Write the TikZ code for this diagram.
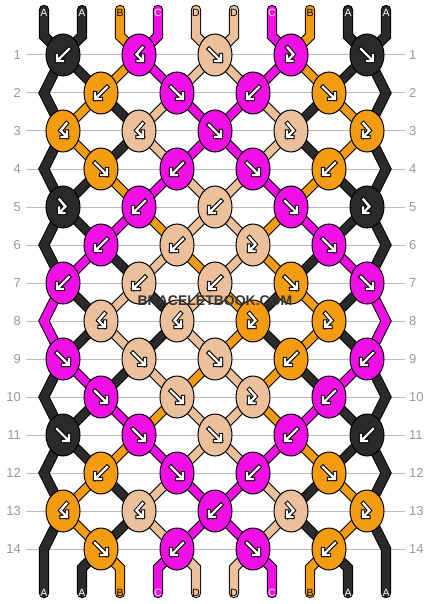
\documentclass[tikz,border=0pt]{standalone}
\usepackage{fontspec}
\setmainfont{Liberation Sans}
\usetikzlibrary{shapes.geometric}
\definecolor{sA}{HTML}{2A2A2A}
\definecolor{sB}{HTML}{F39C12}
\definecolor{sC}{HTML}{F20FE6}
\definecolor{sD}{HTML}{EBC09A}
\definecolor{gridc}{HTML}{BBBBBB}
\definecolor{numc}{HTML}{999999}
\definecolor{wmc}{HTML}{353535}
\pgfdeclarelayer{grid}
\pgfdeclarelayer{outl}
\pgfdeclarelayer{sfill}
\pgfsetlayers{grid,outl,sfill,main}
\newcommand\strand[2]{%
  \begin{pgfonlayer}{outl}\draw[strout] #2;\end{pgfonlayer}%
  \begin{pgfonlayer}{sfill}\draw[strin,draw=s#1] #2;\end{pgfonlayer}}
\newcommand\dstrand[2]{%
  \begin{pgfonlayer}{outl}\draw[dout] #2;\end{pgfonlayer}%
  \begin{pgfonlayer}{sfill}\draw[din,draw=s#1] #2;\end{pgfonlayer}}
\newcommand\knicon[2]{%
  \draw[icon,shift={(#1.center)},draw=black,line width=4.4] #2;
  \draw[icon,shift={(#1.center)},draw=white,line width=2.4] #2;}
\newcommand\knf[1]{\knicon{#1}{(-6,-6) -- (5.5,5.5) (0,6) -- (6,6) -- (6,0)}}
\newcommand\knb[1]{\knicon{#1}{(6,-6) -- (-5.5,5.5) (0,6) -- (-6,6) -- (-6,0)}}
\newcommand\knbf[1]{\knicon{#1}{(3.5,-7.5) -- (-2.5,-0.5) -- (3.5,5.5) (-1.5,6) -- (4,6) -- (4,0.5)}}
\newcommand\knfb[1]{\knicon{#1}{(-3.5,-7.5) -- (2.5,-0.5) -- (-3.5,5.5) (1.5,6) -- (-4,6) -- (-4,0.5)}}
\begin{document}
\begin{tikzpicture}[x=1pt,y=-1pt,
  strout/.style={line width=10.4,draw=black,line join=miter,line cap=round},
  strin/.style={line width=8.4,line join=miter,line cap=round},
  dout/.style={line width=9.6,draw=black},
  din/.style={line width=7.6},
  knot/.style={ellipse,draw=black,line width=1,minimum width=34,minimum height=42,inner sep=0},
  icon/.style={line join=miter,line cap=rect},
  lab/.style={font=\fontsize{10.5}{12}\selectfont,inner sep=0},
  num/.style={font=\fontsize{13}{14}\selectfont,text=numc,inner sep=0}]
\useasboundingbox (0,0) rectangle (430,604);
\begin{pgfonlayer}{grid}
  \fill[white] (0,0) rectangle (430,604);
  \foreach \rw in {1,...,14}{
    \draw[gridc,line width=1] (26,{17+38*\rw}) -- (405,{17+38*\rw});
  }
\end{pgfonlayer}
% row numbers
\foreach \rw in {1,...,14}{
  \node[num,anchor=east] (ln-\rw) at (21,{17+38*\rw}) {\rw};
  \node[num,anchor=west] (rn-\rw) at (409,{17+38*\rw}) {\rw};
}
% coordinates
\foreach \rw in {2,4,...,14}{
  \coordinate (L-\rw) at (44,{17+38*\rw});
  \coordinate (R-\rw) at (386,{17+38*\rw});
}
\foreach \pp in {0,...,9}{
  \coordinate (T-\pp) at ({44+38*\pp},10);
  \coordinate (TB-\pp) at ({44+38*\pp},36);
  \coordinate (BB-\pp) at ({44+38*\pp},568);
  \coordinate (E-\pp) at ({44+38*\pp},593);
}
% knots
\foreach \rw/\cl/\col/\ty in {
 1/0/A/b, 1/2/C/bf, 1/4/D/f, 1/6/C/fb, 1/8/A/f,
 2/1/B/b, 2/3/C/f, 2/5/C/b, 2/7/B/f,
 3/0/B/bf, 3/2/D/bf, 3/4/C/f, 3/6/D/fb, 3/8/B/fb,
 4/1/B/f, 4/3/C/b, 4/5/C/f, 4/7/B/b,
 5/0/A/fb, 5/2/C/b, 5/4/D/b, 5/6/C/f, 5/8/A/fb,
 6/1/C/b, 6/3/D/b, 6/5/D/fb, 6/7/C/f,
 7/0/C/b, 7/2/D/b, 7/4/D/b, 7/6/B/f, 7/8/C/f,
 8/1/D/bf, 8/3/D/bf, 8/5/B/fb, 8/7/B/fb,
 9/0/C/f, 9/2/D/f, 9/4/D/f, 9/6/B/b, 9/8/C/b,
 10/1/C/f, 10/3/D/f, 10/5/D/fb, 10/7/C/b,
 11/0/A/f, 11/2/C/f, 11/4/D/f, 11/6/C/b, 11/8/A/b,
 12/1/B/b, 12/3/C/f, 12/5/C/b, 12/7/B/f,
 13/0/B/bf, 13/2/D/bf, 13/4/C/b, 13/6/D/fb, 13/8/B/fb,
 14/1/B/f, 14/3/C/b, 14/5/C/f, 14/7/B/b}{
  \node[knot,fill=s\col] (n-\rw-\cl) at ({63+38*\cl},{17+38*\rw}) {};
  \csname kn\ty\endcsname{n-\rw-\cl}
}
% connectors between rows
\foreach \rw/\qa/\qb/\qc/\qd/\qe/\qf/\qg/\qh/\qi/\qj in {
 1/A/A/B/C/D/D/C/B/A/A,
 2/A/B/A/D/C/C/D/A/B/A,
 3/A/B/A/D/C/C/D/A/B/A,
 4/A/A/B/C/D/D/C/B/A/A,
 5/A/A/C/B/D/D/B/C/A/A,
 6/A/C/A/D/B/D/B/A/C/A,
 7/C/A/D/A/D/B/A/B/A/C,
 8/C/A/D/A/D/B/A/B/A/C,
 9/A/C/A/D/B/D/B/A/C/A,
 10/A/A/C/B/D/D/B/C/A/A,
 11/A/A/B/C/D/D/C/B/A/A,
 12/A/B/A/D/C/C/D/A/B/A,
 13/A/B/A/D/C/C/D/A/B/A}{
  \pgfmathtruncatemacro{\rn}{\rw+1}
  \pgfmathtruncatemacro{\rrn}{\rw+2}
  \foreach \pp/\cc in {1/\qb,2/\qc,3/\qd,4/\qe,5/\qf,6/\qg,7/\qh,8/\qi}{
    \pgfmathtruncatemacro{\sg}{mod(\pp+\rw,2)}
    \ifnum\sg=1
      \pgfmathtruncatemacro{\ca}{\pp}\pgfmathtruncatemacro{\cbb}{\pp-1}
    \else
      \pgfmathtruncatemacro{\ca}{\pp-1}\pgfmathtruncatemacro{\cbb}{\pp}
    \fi
    \dstrand{\cc}{(n-\rw-\ca.center) -- (n-\rn-\cbb.center)}
  }
  \ifodd\rw
    \ifnum\rw<13
      \strand{\qa}{(n-\rw-0.center) -- (L-\rn) -- (n-\rrn-0.center)}
      \strand{\qj}{(n-\rw-8.center) -- (R-\rn) -- (n-\rrn-8.center)}
    \else
      \strand{\qa}{(n-\rw-0.center) -- (L-\rn) -- (E-0)}
      \strand{\qj}{(n-\rw-8.center) -- (R-\rn) -- (E-9)}
    \fi
  \fi
}
% top strings
\foreach \pp/\cc/\tc in {0/A/white,1/A/white,2/B/black,3/C/white,4/D/black,5/D/black,6/C/white,7/B/black,8/A/white,9/A/white}{
  \pgfmathtruncatemacro{\cl}{\pp-mod(\pp,2)}
  \strand{\cc}{(T-\pp) -- (TB-\pp) -- (n-1-\cl.center)}
  \node[lab,text=\tc] (lt-\pp) at ({44+38*\pp},12.5) {\cc};
  \node[lab,text=\tc] (lb-\pp) at ({44+38*\pp},592.5) {\cc};
}
% bottom strings
\foreach \pp/\cc in {1/A,2/B,3/C,4/D,5/D,6/C,7/B,8/A}{
  \pgfmathtruncatemacro{\cl}{\pp-1+mod(\pp,2)}
  \strand{\cc}{(n-14-\cl.center) -- (BB-\pp) -- (E-\pp)}
}
\node[font=\bfseries\fontsize{14}{14}\selectfont,text=wmc,inner sep=0] (wm) at (215,301) {BRACELETBOOK.COM};
\end{tikzpicture}
\end{document}
